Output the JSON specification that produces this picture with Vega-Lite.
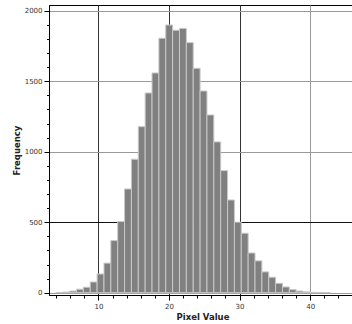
{
  "$schema": "https://vega.github.io/schema/vega-lite/v6.json",
  "width": 307,
  "height": 290,
  "autosize": {"type": "none"},
  "padding": {"left": 49, "top": 5, "right": 0, "bottom": 29},
  "background": "white",
  "config": {
    "view": {"stroke": "black", "strokeWidth": 1},
    "axis": {
      "labelFont": "DejaVu Sans",
      "labelFontSize": 7,
      "labelColor": "#333333",
      "titleFont": "DejaVu Sans",
      "titleFontSize": 8.5,
      "titleFontWeight": "bold",
      "titleColor": "#222222",
      "domainColor": "black",
      "tickColor": "black",
      "gridWidth": 1,
      "labelOverlap": false,
      "labelFlush": false
    }
  },
  "data": {
    "values": [
      {"bin_start": 3.979, "bin_end": 4.952, "count": 2},
      {"bin_start": 4.952, "bin_end": 5.925, "count": 5},
      {"bin_start": 5.925, "bin_end": 6.898, "count": 12},
      {"bin_start": 6.898, "bin_end": 7.870, "count": 25},
      {"bin_start": 7.870, "bin_end": 8.843, "count": 39},
      {"bin_start": 8.843, "bin_end": 9.816, "count": 76},
      {"bin_start": 9.816, "bin_end": 10.789, "count": 133},
      {"bin_start": 10.789, "bin_end": 11.762, "count": 210},
      {"bin_start": 11.762, "bin_end": 12.734, "count": 370},
      {"bin_start": 12.734, "bin_end": 13.707, "count": 505},
      {"bin_start": 13.707, "bin_end": 14.680, "count": 736},
      {"bin_start": 14.680, "bin_end": 15.653, "count": 947},
      {"bin_start": 15.653, "bin_end": 16.626, "count": 1178},
      {"bin_start": 16.626, "bin_end": 17.598, "count": 1417},
      {"bin_start": 17.598, "bin_end": 18.571, "count": 1559},
      {"bin_start": 18.571, "bin_end": 19.544, "count": 1805},
      {"bin_start": 19.544, "bin_end": 20.517, "count": 1899},
      {"bin_start": 20.517, "bin_end": 21.490, "count": 1862},
      {"bin_start": 21.490, "bin_end": 22.462, "count": 1875},
      {"bin_start": 22.462, "bin_end": 23.435, "count": 1774},
      {"bin_start": 23.435, "bin_end": 24.408, "count": 1592},
      {"bin_start": 24.408, "bin_end": 25.381, "count": 1431},
      {"bin_start": 25.381, "bin_end": 26.354, "count": 1261},
      {"bin_start": 26.354, "bin_end": 27.326, "count": 1070},
      {"bin_start": 27.326, "bin_end": 28.299, "count": 866},
      {"bin_start": 28.299, "bin_end": 29.272, "count": 658},
      {"bin_start": 29.272, "bin_end": 30.245, "count": 500},
      {"bin_start": 30.245, "bin_end": 31.218, "count": 422},
      {"bin_start": 31.218, "bin_end": 32.190, "count": 282},
      {"bin_start": 32.190, "bin_end": 33.163, "count": 226},
      {"bin_start": 33.163, "bin_end": 34.136, "count": 148},
      {"bin_start": 34.136, "bin_end": 35.109, "count": 110},
      {"bin_start": 35.109, "bin_end": 36.082, "count": 67},
      {"bin_start": 36.082, "bin_end": 37.054, "count": 41},
      {"bin_start": 37.054, "bin_end": 38.027, "count": 22},
      {"bin_start": 38.027, "bin_end": 39.000, "count": 12},
      {"bin_start": 39.000, "bin_end": 39.973, "count": 6},
      {"bin_start": 39.973, "bin_end": 40.946, "count": 3},
      {"bin_start": 40.946, "bin_end": 41.918, "count": 2},
      {"bin_start": 41.918, "bin_end": 42.891, "count": 1}
    ]
  },
  "mark": {"type": "rect", "fill": "#808080", "stroke": "#c8c8c8", "strokeWidth": 1},
  "encoding": {
    "x": {
      "field": "bin_start",
      "type": "quantitative",
      "scale": {"domain": [3, 46.5], "nice": false, "zero": false},
      "axis": {
        "title": "Pixel Value",
        "format": "d",
        "values": [4, 6, 8, 10, 12, 14, 16, 18, 20, 22, 24, 26, 28, 30, 32, 34, 36, 38, 40, 42, 44, 46],
        "labelExpr": "datum.value % 10 == 0 ? datum.label : ''",
        "tickSize": {"condition": {"test": "datum.value % 10 == 0", "value": 5}, "value": 3},
        "labelPadding": 2,
        "titlePadding": 3,
        "grid": true,
        "gridColor": {"condition": {"test": "datum.value == 40", "value": "#999999"}, "value": "#333333"},
        "gridOpacity": {"condition": {"test": "datum.value % 10 == 0", "value": 1}, "value": 0}
      }
    },
    "x2": {"field": "bin_end"},
    "y": {
      "field": "count",
      "type": "quantitative",
      "scale": {"domain": [-16, 2041], "nice": false, "zero": false},
      "axis": {
        "title": "Frequency",
        "format": "d",
        "values": [0, 100, 200, 300, 400, 500, 600, 700, 800, 900, 1000, 1100, 1200, 1300, 1400, 1500, 1600, 1700, 1800, 1900, 2000],
        "labelExpr": "datum.value % 500 == 0 ? datum.label : ''",
        "tickSize": {"condition": {"test": "datum.value % 500 == 0", "value": 5}, "value": 2.5},
        "labelPadding": 2,
        "titlePadding": 3,
        "grid": true,
        "gridColor": {"condition": {"test": "datum.value == 500", "value": "#111111"}, "value": "#999999"},
        "gridOpacity": {"condition": {"test": "datum.value % 500 == 0", "value": 1}, "value": 0}
      }
    },
    "y2": {"datum": 0}
  }
}
